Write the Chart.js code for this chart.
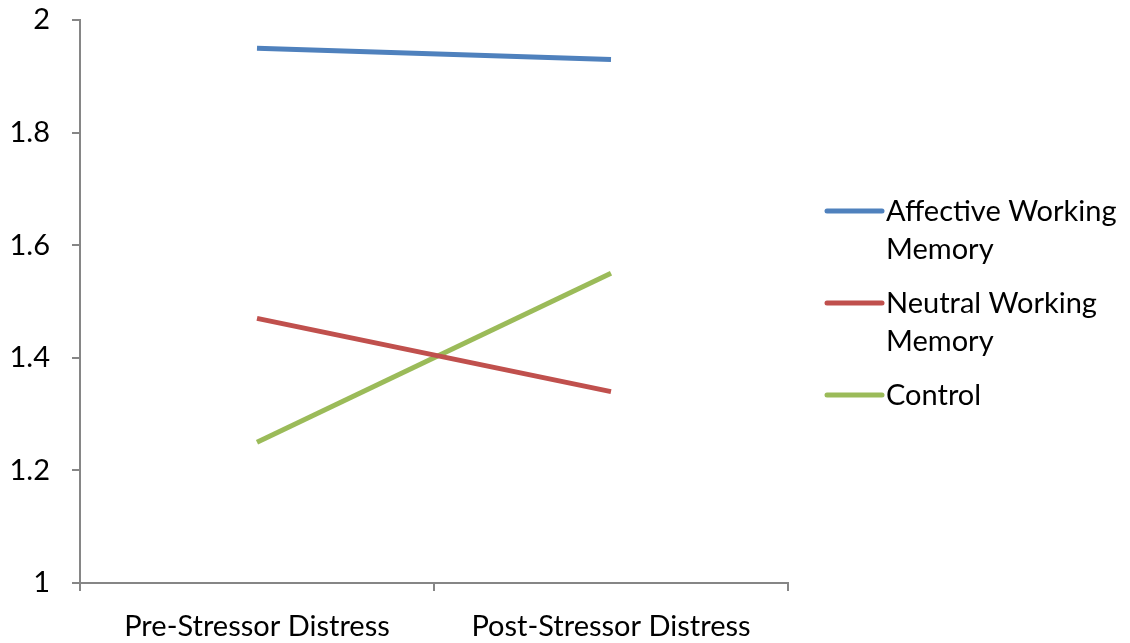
<!DOCTYPE html>
<html>
<head>
<meta charset="utf-8">
<script src="https://cdn.jsdelivr.net/npm/chart.js@4/dist/chart.umd.min.js"></script>
<style>
  html, body { margin: 0; padding: 0; background: #fff; }
  #wrap { width: 1130px; height: 643px; position: relative; }
</style>
</head>
<body>
<div id="wrap"><canvas id="chart"></canvas></div>
<script>
// data
let categories = ['Pre-Stressor Distress', 'Post-Stressor Distress'];
let affective = [1.95, 1.93];
let neutral = [1.47, 1.34];
let control = [1.25, 1.55];
let yTicks = [1, 1.2, 1.4, 1.6, 1.8, 2];
// legend text, split over lines like the original
let legendLines = [['Affective Working', 'Memory'], ['Neutral Working', 'Memory'], ['Control']];

let axisColor = '#868686';
let fontName = 'Lato, "Liberation Sans", sans-serif';
let fontSize = 29;

function serie(label, data, color){
    return {
        label: label,
        data: data,
        borderColor: color,
        backgroundColor: color,
        borderWidth: 5,
        pointRadius: 0,
        pointHoverRadius: 0,
        fill: false,
        tension: 0
    };
}

// legend on the right, drawn by hand so the text can wrap
let sideLegend = {
    id: 'sideLegend',
    afterDraw(chart){
        let ctx = chart.ctx;
        let x0 = chart.chartArea.right + 39;
        let lineLen = 55;
        let lineH = 37.5;
        let gap = 17;
        let y = 212;
        ctx.save();
        ctx.font = fontSize + 'px ' + fontName;
        ctx.textBaseline = 'middle';
        ctx.fillStyle = '#000';
        chart.data.datasets.forEach((ds, i) => {
            ctx.strokeStyle = ds.borderColor;
            ctx.lineWidth = 5;
            ctx.lineCap = 'round';
            ctx.beginPath();
            ctx.moveTo(x0, y - 1);
            ctx.lineTo(x0 + lineLen, y - 1);
            ctx.stroke();
            legendLines[i].forEach((t, k) => {
                ctx.fillText(t, x0 + lineLen + 4, y + k * lineH);
            });
            y += legendLines[i].length * lineH + gap;
        });
        ctx.restore();
    }
};

let ctx = document.getElementById('chart').getContext('2d');
let chart = new Chart(ctx, {
    type: 'line',
    data: {
        labels: categories,
        datasets: [
            serie('Affective Working Memory', affective, '#4F81BD'),
            serie('Neutral Working Memory', neutral, '#C0504D'),
            serie('Control', control, '#9BBB59')
        ]
    },
    options: {
        responsive: true,
        maintainAspectRatio: false,
        animation: false,
        layout: { padding: { left: 0, top: 20, right: 342, bottom: 0 } },
        plugins: {
            legend: { display: false },
            tooltip: { enabled: false }
        },
        scales: {
            x: {
                offset: true,
                grid: {
                    offset: true,
                    drawOnChartArea: false,
                    drawTicks: true,
                    tickLength: 8,
                    color: axisColor,
                    lineWidth: 2
                },
                border: { color: axisColor, width: 2 },
                ticks: {
                    color: '#000',
                    font: { family: fontName, size: fontSize },
                    padding: 18,
                    maxRotation: 0
                },
                afterFit(scale){ scale.height = 60; }
            },
            y: {
                min: 1,
                max: 2,
                afterBuildTicks(scale){
                    scale.ticks = yTicks.map(v => ({ value: v }));
                },
                grid: {
                    drawOnChartArea: false,
                    drawTicks: true,
                    tickLength: 8,
                    color: axisColor,
                    lineWidth: 2
                },
                border: { color: axisColor, width: 2 },
                ticks: {
                    color: '#000',
                    font: { family: fontName, size: fontSize },
                    padding: 22,
                    callback: v => String(v)
                },
                afterFit(scale){
                    scale.width = 80;
                    scale.paddingTop = 0;
                    scale.paddingBottom = 0;
                }
            }
        }
    },
    plugins: [sideLegend]
});
</script>
</body>
</html>
